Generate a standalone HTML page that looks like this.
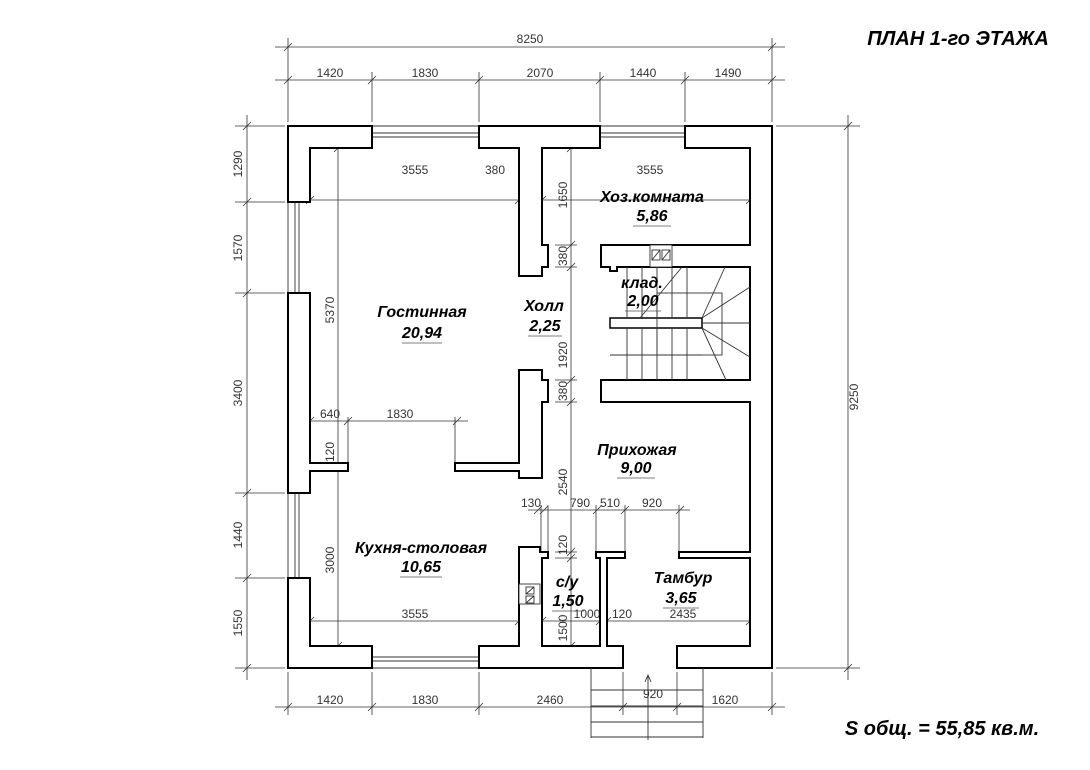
<!DOCTYPE html>
<html><head><meta charset="utf-8"><style>
html,body{margin:0;padding:0;background:#fff;}
svg{display:block;}
.d{font-family:"Liberation Sans",sans-serif;font-size:12px;fill:#333;}
.r{font-family:"Liberation Sans",sans-serif;font-size:16px;font-weight:bold;font-style:italic;fill:#000;text-anchor:middle;}
.w{fill:#fff;stroke:#000;stroke-width:2;}
.t{stroke:#333;stroke-width:0.8;fill:none;}
</style></head><body>
<svg width="1090" height="770" viewBox="0 0 1090 770" xmlns="http://www.w3.org/2000/svg">
<rect width="1090" height="770" fill="#fff"/>
<text x="958" y="45" font-family="Liberation Sans,sans-serif" font-size="20" font-weight="bold" font-style="italic" text-anchor="middle">ПЛАН  1-го ЭТАЖА</text>
<text x="942" y="735" font-family="Liberation Sans,sans-serif" font-size="20" font-weight="bold" font-style="italic" text-anchor="middle">S общ. = 55,85 кв.м.</text>

<g class="t">
<line x1="275" y1="47" x2="785" y2="47"/><line x1="275" y1="80" x2="785" y2="80"/>
<line x1="288" y1="38" x2="288" y2="122"/><line x1="772" y1="38" x2="772" y2="122"/>
<line x1="372" y1="72" x2="372" y2="122"/><line x1="479" y1="72" x2="479" y2="122"/><line x1="600" y1="72" x2="600" y2="122"/><line x1="685" y1="72" x2="685" y2="122"/>
<path d="M284 51l8-8M768 51l8-8M284 84l8-8M368 84l8-8M475 84l8-8M596 84l8-8M681 84l8-8M768 84l8-8"/>
<line x1="275" y1="707" x2="785" y2="707"/>
<line x1="288" y1="672" x2="288" y2="715"/><line x1="372" y1="672" x2="372" y2="715"/><line x1="479" y1="672" x2="479" y2="715"/><line x1="623" y1="672" x2="623" y2="715"/><line x1="677" y1="672" x2="677" y2="715"/><line x1="772" y1="672" x2="772" y2="715"/>
<path d="M284 711l8-8M368 711l8-8M475 711l8-8M619 711l8-8M673 711l8-8M768 711l8-8"/>
<line x1="247" y1="115" x2="247" y2="680"/>
<path d="M235 126h50M235 202h50M235 293h50M235 493h50M235 578h50M235 668h50"/>
<path d="M243 130l8-8M243 206l8-8M243 297l8-8M243 497l8-8M243 582l8-8M243 672l8-8"/>
<line x1="848" y1="115" x2="848" y2="680"/>
<path d="M776 126h84M776 668h84M844 130l8-8M844 672l8-8"/>
<line x1="298" y1="200" x2="762" y2="200"/>
<path d="M306 204l8-8M515 204l8-8M538 204l8-8M746 204l8-8"/>
<line x1="338" y1="138" x2="338" y2="656"/>
<path d="M334 152l8-8M334 650l8-8"/>
<line x1="571" y1="138" x2="571" y2="660"/>
<path d="M567 152l8-8M567 249l8-8M567 271l8-8M567 384l8-8M567 406l8-8M567 556l8-8M567 562l8-8M567 650l8-8"/>
<path d="M555 245h22M555 267h22M555 380h22M555 402h22M555 552h22M555 558h22"/>
<line x1="298" y1="421" x2="468" y2="421"/>
<path d="M306 425l8-8M344 425l8-8M453 425l8-8M348 417v48M455 417v48"/>
<line x1="528" y1="510" x2="690" y2="510"/>
<path d="M534 514l8-8M540 514l8-8M593 514l8-8M621 514l8-8M676 514l8-8M541 505v47M548 505v47M596 505v47M625 505v47M679 505v47"/>
<line x1="298" y1="621" x2="762" y2="621"/>
<path d="M306 625l8-8M515 625l8-8M538 625l8-8M596 625l8-8M603 625l8-8M746 625l8-8"/>
</g>
<g class="d" text-anchor="middle">
<text x="530" y="43">8250</text>
<text x="330" y="77">1420</text><text x="425" y="77">1830</text><text x="540" y="77">2070</text><text x="643" y="77">1440</text><text x="728" y="77">1490</text>
<text x="330" y="704">1420</text><text x="425" y="704">1830</text><text x="550" y="704">2460</text><text x="653" y="698">920</text><text x="725" y="704">1620</text>
<text transform="translate(242,164) rotate(-90)">1290</text>
<text transform="translate(242,248) rotate(-90)">1570</text>
<text transform="translate(242,393) rotate(-90)">3400</text>
<text transform="translate(242,535) rotate(-90)">1440</text>
<text transform="translate(242,623) rotate(-90)">1550</text>
<text transform="translate(858,397) rotate(-90)">9250</text>
<text x="415" y="174">3555</text><text x="495" y="174">380</text><text x="650" y="174">3555</text>
<text transform="translate(334,310) rotate(-90)">5370</text>
<text transform="translate(334,560) rotate(-90)">3000</text>
<text transform="translate(567,195) rotate(-90)">1650</text>
<text transform="translate(567,256) rotate(-90)">380</text>
<text transform="translate(567,355) rotate(-90)">1920</text>
<text transform="translate(567,391) rotate(-90)">380</text>
<text transform="translate(567,482) rotate(-90)">2540</text>
<text transform="translate(567,545) rotate(-90)">120</text>
<text transform="translate(567,628) rotate(-90)">1500</text>
<text x="330" y="418">640</text><text x="400" y="418">1830</text>
<text transform="translate(334,452) rotate(-90)">120</text>
<text x="531" y="507">130</text><text x="580" y="507">790</text><text x="610" y="507">510</text><text x="652" y="507">920</text>
<text x="415" y="618">3555</text><text x="587" y="618">1000</text><text x="622" y="618">120</text><text x="683" y="618">2435</text>
</g>

<g stroke="#333" stroke-width="0.9">
<path d="M372 126h107M372 133h107M372 137h107M600 126h85M600 133h85M600 137h85"/>
<path d="M372 668h107M372 661h107M372 657h107"/>
<path d="M288 202v91M295 202v91M299 202v91M288 493v85M295 493v85M299 493v85"/>
</g>

<polygon class="w" points="288,126 372,126 372,148 310,148 310,202 288,202"/>
<polygon class="w" points="479,126 600,126 600,148 542,148 542,245 548,245 548,267 542,267 542,276 519,276 519,148 479,148"/>
<polygon class="w" points="685,126 772,126 772,668 677,668 677,646 750,646 750,558 679,558 679,552 750,552 750,402 601,402 601,380 750,380 750,267 617,267 617,271 610,271 610,267 601,267 601,245 750,245 750,148 685,148"/>
<polygon class="w" points="288,293 310,293 310,463 348,463 348,471 310,471 310,493 288,493"/>
<polygon class="w" points="288,578 310,578 310,646 372,646 372,668 288,668"/>
<polygon class="w" points="479,646 519,646 519,547 540,547 540,552 548,552 548,558 542,558 542,646 600,646 600,558 596,558 596,552 625,552 625,558 607,558 607,646 623,646 623,668 479,668"/>
<polygon class="w" points="519,370 542,370 542,380 548,380 548,402 542,402 542,478 519,478 519,471 455,471 455,463 519,463"/>

<g stroke="#333" stroke-width="0.9" fill="none">
<rect x="610" y="318" width="92" height="10" fill="#fff" stroke="#000" stroke-width="1.5"/>
<path d="M627 267v51M642 267v51M657 267v51M672 267v51M687 267v51M627 328v52M642 328v52M657 328v52M672 328v52M687 328v52"/>
<path d="M610 355h92"/>
<rect x="657" y="293" width="65" height="62"/>
<path d="M702 318L725 267M702 318L750 287M702 328L750 357M702 328L726 380M702 323L750 323"/>
<path d="M682 267L640 318"/>
<rect x="650" y="245" width="22" height="22" fill="#fff"/>
<rect x="652" y="250" width="8" height="10"/><rect x="662" y="250" width="8" height="10"/>
<path d="M652 260l8-10M662 260l8-10"/>
<rect x="519" y="584" width="21" height="20" fill="#fff"/>
<rect x="526" y="587" width="8" height="7"/><rect x="526" y="596" width="8" height="7"/>
<path d="M526 594l8-7M526 603l8-7"/>
<path d="M591 668v70M703 668v70M591 690h112M591 706h112M591 722h112M591 737h112M648 675v65"/>
<path d="M645 682l3-7 3 7"/>
</g>

<text class="r" x="422" y="317">Гостинная</text><text class="r" x="422" y="338">20,94</text>
<text class="r" x="544" y="311">Холл</text><text class="r" x="545" y="331">2,25</text>
<text class="r" x="652" y="202">Хоз.комната</text><text class="r" x="652" y="221">5,86</text>
<text class="r" x="642" y="288">клад.</text><text class="r" x="643" y="306">2,00</text>
<text class="r" x="637" y="455">Прихожая</text><text class="r" x="636" y="473">9,00</text>
<text class="r" x="421" y="553">Кухня-столовая</text><text class="r" x="421" y="572">10,65</text>
<text class="r" x="567" y="587">с/у</text><text class="r" x="568" y="606">1,50</text>
<text class="r" x="683" y="583">Тамбур</text><text class="r" x="681" y="603">3,65</text>
<g stroke="#555" stroke-width="0.8">
<path d="M402 343h40M528 336h34M633 226h38M625 311h36M617 478h38M400 577h42M552 611h32M663 608h36"/>
</g>
</svg>
</body></html>
